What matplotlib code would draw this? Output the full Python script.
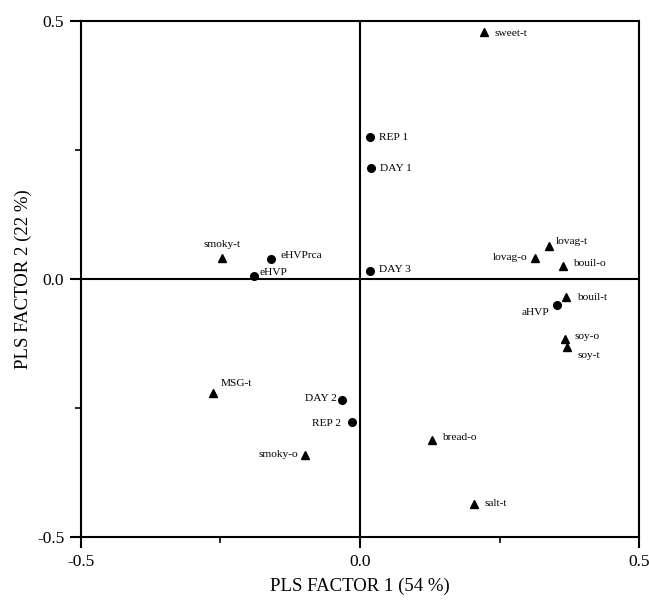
import matplotlib
matplotlib.use("Agg")
import matplotlib.pyplot as plt
from matplotlib.ticker import MultipleLocator

# ---- data ----
circle_labels = ["REP 1", "DAY 1", "DAY 3", "eHVPrca", "eHVP", "aHVP", "DAY 2", "REP 2"]
circle_x = [0.018, 0.020, 0.018, -0.159, -0.190, 0.353, -0.032, -0.014]
circle_y = [0.275, 0.215, 0.016, 0.039, 0.006, -0.050, -0.234, -0.277]

tri_labels = ["sweet-t", "smoky-t", "lovag-t", "lovag-o", "bouil-o", "bouil-t",
              "soy-o", "soy-t", "MSG-t", "smoky-o", "bread-o", "salt-t"]
tri_x = [0.222, -0.247, 0.339, 0.314, 0.364, 0.369, 0.367, 0.371, -0.263, -0.099, 0.129, 0.204]
tri_y = [0.479, 0.041, 0.064, 0.041, 0.025, -0.035, -0.116, -0.132, -0.221, -0.341, -0.312, -0.436]

x_label = "PLS FACTOR 1 (54 %)"
y_label = "PLS FACTOR 2 (22 %)"
major_ticks = [-0.5, 0.0, 0.5]

# label placement styles (offset in pixels, horizontal alignment)
label_style = {
    "REP 1": (9, 0, "left"), "DAY 1": (9, 0, "left"), "DAY 3": (9, 1, "left"),
    "eHVPrca": (9, 3, "left"), "eHVP": (6, 3, "left"), "aHVP": (-8, -8, "right"),
    "DAY 2": (-5, 1, "right"), "REP 2": (-11, -2, "right"),
    "sweet-t": (11, -2, "left"), "smoky-t": (0, 13, "center"), "lovag-t": (7, 5, "left"),
    "lovag-o": (-8, 0, "right"), "bouil-o": (10, 3, "left"), "bouil-t": (11, 0, "left"),
    "soy-o": (10, 2, "left"), "soy-t": (10, -8, "left"), "MSG-t": (7, 10, "left"),
    "smoky-o": (-7, 0, "right"), "bread-o": (10, 2, "left"), "salt-t": (11, 0, "left"),
}

plt.rcParams["font.family"] = ["Liberation Serif", "DejaVu Serif"]

fig = plt.figure(figsize=(6.49, 6.02), dpi=100)
ax = fig.add_axes([0.1248, 0.108, 0.8598, 0.857])

ax.set_xlim(-0.5, 0.5)
ax.set_ylim(-0.5, 0.5)

ax.axhline(0, color="black", lw=1.5, zorder=1)
ax.axvline(0, color="black", lw=1.5, zorder=1)

ax.plot(circle_x, circle_y, "o", color="black", markersize=5.5, zorder=3)
ax.plot(tri_x, tri_y, "^", color="black", markersize=5.5, zorder=3)

for lbl, x, y in list(zip(circle_labels, circle_x, circle_y)) + list(zip(tri_labels, tri_x, tri_y)):
    dx, dy, ha = label_style[lbl]
    ax.annotate(lbl, (x, y), xytext=(dx, dy), textcoords="offset pixels",
                ha=ha, va="center", fontsize=8.2, color="black")

for s in ax.spines.values():
    s.set_linewidth(1.5)
    s.set_color("black")

ax.set_xticks(major_ticks)
ax.set_yticks(major_ticks)
ax.set_xticklabels([f"{t:.1f}" for t in major_ticks])
ax.set_yticklabels([f"{t:.1f}" for t in major_ticks])
ax.xaxis.set_minor_locator(MultipleLocator(0.25))
ax.yaxis.set_minor_locator(MultipleLocator(0.25))
ax.tick_params(which="major", direction="out", length=8, width=1.5, labelsize=12.5, pad=4)
ax.tick_params(which="minor", direction="out", length=4, width=1.2)

ax.set_xlabel(x_label, fontsize=13.5, labelpad=6)
ax.set_ylabel(y_label, fontsize=13.5, labelpad=4)

fig.savefig("out.png", dpi=100)
